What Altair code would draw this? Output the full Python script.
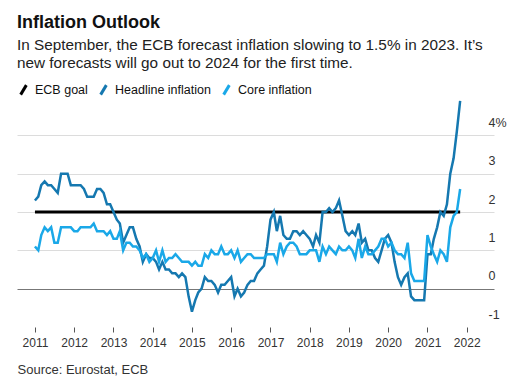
import altair as alt
import pandas as pd

# Monthly data, Jan 2011 .. Nov 2021
headline = [
    2.3, 2.4, 2.7, 2.8, 2.7, 2.7, 2.6, 2.5, 3.0, 3.0, 3.0, 2.7,   # 2011
    2.7, 2.7, 2.7, 2.6, 2.4, 2.4, 2.4, 2.6, 2.6, 2.5, 2.2, 2.2,   # 2012
    2.0, 1.8, 1.7, 1.2, 1.4, 1.6, 1.6, 1.3, 1.1, 0.7, 0.9, 0.8,   # 2013
    0.8, 0.7, 0.5, 0.7, 0.5, 0.5, 0.4, 0.4, 0.3, 0.4, 0.3, -0.2,  # 2014
    -0.6, -0.3, -0.1, 0.0, 0.3, 0.2, 0.2, 0.1, -0.1, 0.1, 0.1, 0.2,  # 2015
    0.3, -0.2, 0.0, -0.2, -0.1, 0.1, 0.2, 0.2, 0.4, 0.5, 0.6, 1.1,  # 2016
    1.8, 2.0, 1.5, 1.9, 1.4, 1.3, 1.3, 1.5, 1.5, 1.4, 1.5, 1.4,   # 2017
    1.3, 1.1, 1.4, 1.2, 2.0, 2.0, 2.1, 2.0, 2.1, 2.3, 1.9, 1.5,   # 2018
    1.4, 1.5, 1.4, 1.7, 1.2, 1.3, 1.0, 1.0, 0.8, 0.7, 1.0, 1.3,   # 2019
    1.4, 1.2, 0.7, 0.3, 0.1, 0.3, 0.4, -0.2, -0.3, -0.3, -0.3, -0.3,  # 2020
    0.9, 0.9, 1.3, 1.6, 2.0, 1.9, 2.2, 3.0, 3.4, 4.1, 4.9,        # 2021
]
core = [
    1.1, 1.0, 1.4, 1.6, 1.5, 1.6, 1.2, 1.2, 1.6, 1.6, 1.6, 1.6,   # 2011
    1.5, 1.5, 1.6, 1.6, 1.6, 1.6, 1.7, 1.5, 1.5, 1.5, 1.4, 1.5,   # 2012
    1.3, 1.3, 1.5, 1.0, 1.2, 1.2, 1.1, 1.1, 1.0, 0.8, 0.9, 0.7,   # 2013
    0.8, 1.0, 0.7, 1.0, 0.7, 0.8, 0.8, 0.9, 0.8, 0.7, 0.7, 0.7,   # 2014
    0.6, 0.7, 0.6, 0.6, 0.9, 0.8, 1.0, 0.9, 0.9, 1.1, 0.9, 0.9,   # 2015
    1.0, 0.8, 1.0, 0.7, 0.8, 0.9, 0.9, 0.8, 0.8, 0.8, 0.8, 0.9,   # 2016
    0.9, 0.9, 0.7, 1.2, 0.9, 1.1, 1.2, 1.2, 1.1, 0.9, 0.9, 0.9,   # 2017
    1.0, 1.0, 1.0, 0.7, 1.1, 0.9, 1.1, 1.0, 0.9, 1.1, 1.0, 1.0,   # 2018
    1.1, 1.0, 0.8, 1.3, 0.8, 1.1, 0.9, 0.9, 1.0, 1.1, 1.3, 1.3,   # 2019
    1.1, 1.2, 1.0, 0.9, 0.9, 0.8, 1.2, 0.4, 0.2, 0.2, 0.2, 0.2,   # 2020
    1.4, 1.1, 0.9, 0.7, 1.0, 0.9, 0.7, 1.6, 1.9, 2.0, 2.6,        # 2021
]
goal_value = 2.0

series_names = ["ECB goal", "Headline inflation", "Core inflation"]
series_colors = ["#000000", "#1578b0", "#1aa8e8"]
year_ticks = list(range(2011, 2023))
y_ticks = [-1, 0, 1, 2, 3, 4]

dates = pd.date_range("2011-01-01", periods=len(headline), freq="MS")

df_goal = pd.DataFrame({"date": [dates[0], dates[-1]], "value": [goal_value, goal_value],
                        "series": "ECB goal"})
df_head = pd.DataFrame({"date": dates, "value": headline, "series": "Headline inflation"})
df_core = pd.DataFrame({"date": dates, "value": core, "series": "Core inflation"})

FONT = "Liberation Sans"

x_enc = alt.X(
    "date:T",
    scale=alt.Scale(domain=[alt.DateTime(year=2010, month=7, date=18),
                            alt.DateTime(year=2022, month=9, date=12)]),
    axis=alt.Axis(
        values=[alt.DateTime(year=y, month=1, date=1) for y in year_ticks],
        format="%Y", domain=False, grid=False, ticks=True, tickSize=5,
        tickColor="#555", tickWidth=1, labelFontSize=12, labelColor="#333",
        labelPadding=5, labelFont=FONT,
        title="Source: Eurostat, ECB", titleAnchor="start", titleAlign="left",
        titleFontSize=13, titleFontWeight="normal", titleColor="#333",
        titleFont=FONT, titlePadding=15.5,
    ),
)
y_enc = alt.Y(
    "value:Q",
    scale=alt.Scale(domain=[-1, 5], nice=False),
    axis=alt.Axis(
        orient="right", values=y_ticks, domain=False, ticks=False, tickSize=0,
        labelAlign="left", labelBaseline="middle", labelOffset=-13,
        labelPadding=-6, labelFontSize=12.5, labelColor="#333", labelFont=FONT,
        labelExpr="datum.value == 4 ? '4%' : '' + datum.value",
        grid=True,
        gridColor={"condition": {"test": "datum.value === 0", "value": "#777"}, "value": "#dcdcdc"},
        gridOpacity={"condition": {"test": "datum.value === -1", "value": 0}, "value": 1},
        gridWidth=1, title=None,
    ),
)
color_enc = alt.Color(
    "series:N",
    scale=alt.Scale(domain=series_names, range=series_colors),
    legend=alt.Legend(
        orient="top", title=None, direction="horizontal",
        symbolType="M-0.6,1L0.6,-1", symbolSize=90, symbolStrokeWidth=3,
        labelFontSize=12.5, labelFont=FONT, labelColor="#111",
        labelOffset=5, columnPadding=6, offset=-6, padding=0,
    ),
)

goal = alt.Chart(df_goal).mark_line(strokeWidth=3).encode(x=x_enc, y=y_enc, color=color_enc)
head = alt.Chart(df_head).mark_line(strokeWidth=2.5).encode(x=x_enc, y=y_enc, color=color_enc)
cor = alt.Chart(df_core).mark_line(strokeWidth=2.5).encode(x=x_enc, y=y_enc, color=color_enc)

chart = alt.layer(goal, head, cor).properties(
    width=477, height=230,
    padding={"left": 9, "top": 5, "right": 5, "bottom": 5},
    title=alt.TitleParams(
        text="Inflation Outlook",
        subtitle=["In September, the ECB forecast inflation slowing to 1.5% in 2023. It\u2019s",
                  "new forecasts will go out to 2024 for the first time."],
        anchor="start", fontSize=18, fontWeight="bold", font=FONT, color="#111",
        subtitleFontSize=15.3, subtitleFont=FONT, subtitleColor="#222",
        subtitleLineHeight=18, subtitlePadding=6, offset=12,
    ),
).configure_view(stroke=None)

chart.save("out.html", embed_options={"renderer": "svg", "actions": False})
